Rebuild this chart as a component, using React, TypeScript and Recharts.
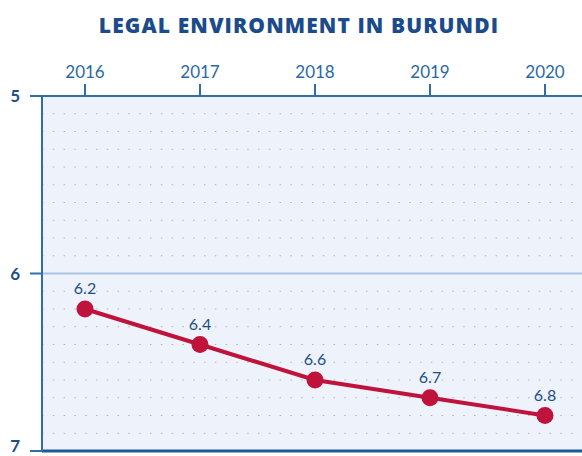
import {
  LineChart,
  Line,
  XAxis,
  YAxis,
  CartesianGrid,
  ReferenceLine,
  LabelList,
} from 'recharts';

const years = ['2016', '2017', '2018', '2019', '2020'];
const scores = [6.2, 6.4, 6.6, 6.7, 6.8];
const yTicks = [5, 6, 7];
const dotRows = [5.1, 5.2, 5.3, 5.4, 5.5, 5.6, 5.7, 5.8, 5.9, 6.1, 6.2, 6.3, 6.4, 6.5, 6.6, 6.7, 6.8, 6.9];

const data = years.map((year, i) => ({ year, score: scores[i] }));

const axisBlue = '#2f6ea8';
const labelBlue = '#1f4e87';
const red = '#c0133c';

export default function App() {
  return (
    <div style={{ position: 'absolute', left: 0, top: 0, width: 582, height: 456, background: '#fff' }}>
      <div
        style={{
          position: 'absolute',
          top: 11,
          left: 8,
          width: 582,
          textAlign: 'center',
          fontFamily: '"Open Sans", sans-serif',
          fontWeight: 800,
          fontSize: 21,
          letterSpacing: 1.1,
          color: '#1b4b8a',
        }}
      >
        LEGAL ENVIRONMENT IN BURUNDI
      </div>
      <LineChart
        width={582}
        height={456}
        data={data}
        margin={{ top: 56, right: 0, left: 0, bottom: 5 }}
        style={{ position: 'absolute', left: 0, top: 0 }}
      >
        <CartesianGrid fill="#eef3fb" vertical={false} horizontal={false} />
        {dotRows.map((v) => (
          <ReferenceLine key={v} y={v} stroke="#a3b5cc" strokeWidth={1.2} strokeDasharray="1.5 9.3" />
        ))}
        <ReferenceLine y={6} stroke="#a9c4e2" strokeWidth={2} />
        <ReferenceLine y={7} stroke="#1f5a94" strokeWidth={3} />
        <XAxis
          dataKey="year"
          orientation="top"
          height={40}
          padding={{ left: 43, right: 37 }}
          axisLine={{ stroke: axisBlue, strokeWidth: 2 }}
          tickLine={{ stroke: axisBlue, strokeWidth: 2 }}
          tickSize={12}
          tickMargin={6}
          tick={{ fill: '#2a68a6', fontSize: 17, fontFamily: 'Lato, sans-serif' }}
        />
        <YAxis
          type="number"
          domain={[5, 7]}
          ticks={yTicks}
          reversed
          width={42}
          axisLine={{ stroke: axisBlue, strokeWidth: 2 }}
          tickLine={{ stroke: axisBlue, strokeWidth: 2 }}
          tickSize={12}
          tickMargin={10}
          tick={{ fill: labelBlue, fontSize: 17, fontFamily: 'Lato, sans-serif', fontWeight: 700 }}
        />
        <Line
          type="linear"
          dataKey="score"
          stroke={red}
          strokeWidth={4}
          dot={{ r: 8.5, fill: red, stroke: red, strokeWidth: 0 }}
          isAnimationActive={false}
        >
          <LabelList
            dataKey="score"
            position="top"
            offset={15}
            fill={labelBlue}
            fontSize={16}
            fontFamily="Lato, sans-serif"
          />
        </Line>
      </LineChart>
    </div>
  );
}
